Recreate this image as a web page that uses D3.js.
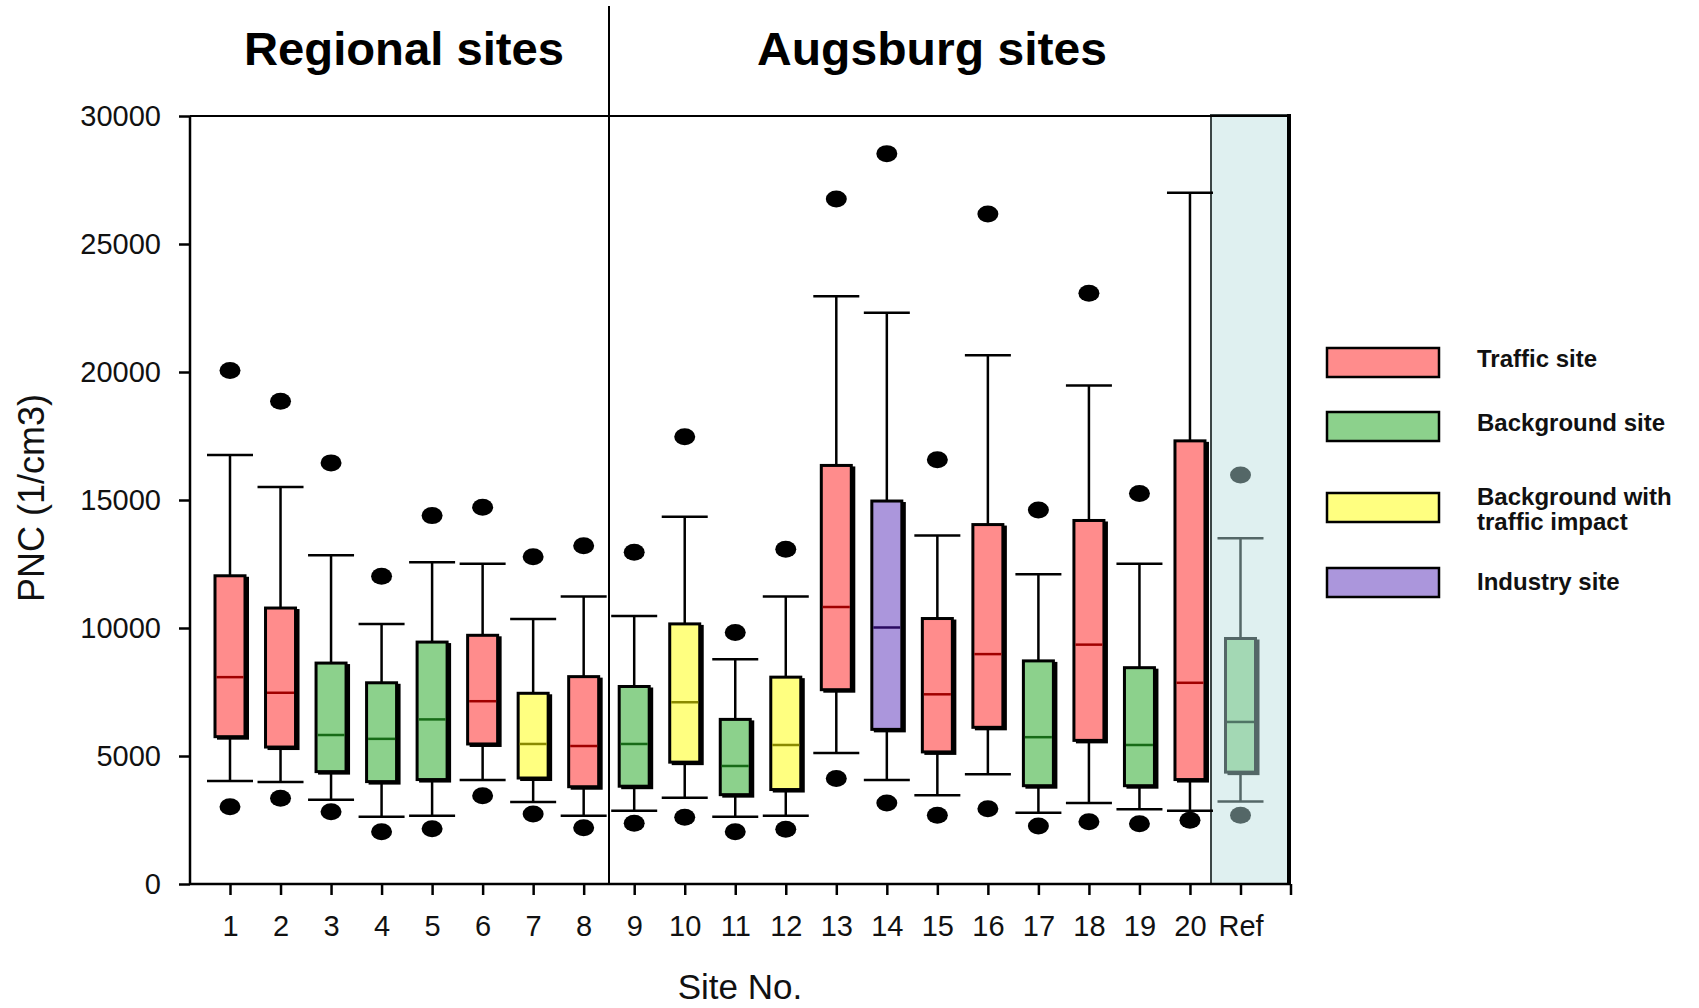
<!DOCTYPE html>
<html>
<head>
<meta charset="utf-8">
<script src="https://cdn.jsdelivr.net/npm/d3@7"></script>
<style>
  body { margin: 0; background: #fff; }
  text { font-family: "Liberation Sans", Arial, sans-serif; }
</style>
</head>
<body>
<svg id="chart" width="1699" height="1008"></svg>
<script>
// site categories and types
var sites = ['1','2','3','4','5','6','7','8','9','10','11','12','13','14','15','16','17','18','19','20','Ref'];
var siteTypes = ['T','T','B','B','B','T','BT','T','B','BT','B','BT','T','I','T','T','B','T','B','T','R'];

// box stats (PNC, 1/cm3)
var whiskerLow  = [4020,3980,3290,2630,2670,4060,3200,2670,2860,3370,2630,2670,5120,4060,3470,4290,2780,3160,2920,2860,3225];
var q1          = [5755,5350,4390,4000,4080,5470,4140,3800,3820,4760,3490,3690,7590,6040,5160,6120,3840,5610,3840,4080,4370];
var median      = [8080,7470,5820,5670,6430,7140,5470,5390,5470,7100,4610,5430,10820,10020,7410,8980,5735,9350,5430,7860,6330];
var q3          = [12040,10780,8630,7860,9450,9715,7450,8100,7715,10160,6430,8080,16350,14960,10370,14040,8715,14200,8450,17310,9590];
var whiskerHigh = [16760,15510,12840,10160,12570,12510,10350,11230,10470,14350,8780,11230,22960,22310,13610,20650,12100,19470,12510,27000,13510];
var outlierLow  = [3020,3350,2820,2040,2160,3450,2735,2200,2370,2610,2040,2140,4120,3160,2690,2940,2270,2430,2350,2490,2690];
var outlierHigh = [20060,18860,16450,12020,14390,14720,12780,13210,12960,17470,9820,13080,26760,28530,16570,26170,14610,23080,15250,null,15980];

var yTicks = [0,5000,10000,15000,20000,25000,30000];

var legendLabels = [['Traffic site'], ['Background site'], ['Background with','traffic impact'], ['Industry site']];
var legendTypes = ['T','B','BT','I'];

var fills = {T:'#ff8c8c', B:'#8cd18c', BT:'#ffff80', I:'#ab96dc', R:'#a3d8b4'};
var medianCol = {T:'#a00000', B:'#176b17', BT:'#8a8a00', I:'#2a0a60', R:'#4f7565'};
var edgeCol = {T:'#000', B:'#000', BT:'#000', I:'#000', R:'#546767'};

var svg = d3.select('#chart');
var plotL = 190, plotR = 1289, plotT = 116, plotB = 884;

var x = d3.scalePoint().domain(sites).range([230, 1240.5]);
var y = d3.scaleLinear().domain([0, 30000]).range([plotB, plotT]);

var data = sites.map(function(s, i) {
  return {site: s, type: siteTypes[i], wl: whiskerLow[i], q1: q1[i], med: median[i],
          q3: q3[i], wh: whiskerHigh[i], ol: outlierLow[i], oh: outlierHigh[i]};
});

// reference panel
svg.append('rect').attr('x', 1211).attr('y', plotT - 1).attr('width', plotR - 1211).attr('height', plotB - plotT + 1)
  .attr('fill', '#dff0f0').attr('stroke', '#3c4646').attr('stroke-width', 2);
svg.append('line').attr('x1', plotR).attr('x2', plotR).attr('y1', plotT - 2).attr('y2', plotB)
  .attr('stroke', '#000').attr('stroke-width', 4);

// frame: top line and region divider
svg.append('line').attr('x1', plotL).attr('x2', plotR).attr('y1', plotT).attr('y2', plotT)
  .attr('stroke', '#000').attr('stroke-width', 2);
svg.append('line').attr('x1', 609).attr('x2', 609).attr('y1', 6).attr('y2', plotB)
  .attr('stroke', '#000').attr('stroke-width', 2);

// axes
var yAxis = svg.append('g').attr('transform', 'translate(' + plotL + ',0)')
  .call(d3.axisLeft(y).tickValues(yTicks).tickSize(11).tickPadding(18).tickFormat(d3.format('d')));
var xAxis = svg.append('g').attr('transform', 'translate(0,' + plotB + ')')
  .call(d3.axisBottom(x).tickSize(11).tickPadding(20));
[yAxis, xAxis].forEach(function(a) {
  a.select('.domain').attr('stroke-width', 2.5);
  a.selectAll('.tick line').attr('stroke-width', 2.5);
  a.selectAll('.tick text').attr('font-size', 29).attr('font-family', '"Liberation Sans", Arial, sans-serif').attr('fill', '#111');
});
xAxis.select('.domain').attr('d', 'M' + plotL + ',0H' + (plotR + 2));
yAxis.select('.domain').attr('d', 'M0,' + y(0) + 'V' + plotT);
svg.append('line').attr('x1', plotR + 2).attr('x2', plotR + 2).attr('y1', plotB).attr('y2', plotB + 11)
  .attr('stroke', '#000').attr('stroke-width', 2.5);

// boxes
var boxW = 30, capW = 46;
var g = svg.selectAll('g.site').data(data).enter().append('g').attr('class', 'site');

g.append('line')
  .attr('x1', d => x(d.site)).attr('x2', d => x(d.site))
  .attr('y1', d => y(d.wh)).attr('y2', d => y(d.wl))
  .attr('stroke', d => edgeCol[d.type]).attr('stroke-width', 2.5);
g.selectAll('line.cap').data(d => [d.wl, d.wh].map(v => ({v: v, d: d}))).enter().append('line')
  .attr('class', 'cap')
  .attr('x1', c => x(c.d.site) - capW / 2).attr('x2', c => x(c.d.site) + capW / 2)
  .attr('y1', c => y(c.v)).attr('y2', c => y(c.v))
  .attr('stroke', c => edgeCol[c.d.type]).attr('stroke-width', 2.5);

// shadow edge on right/bottom
g.append('rect')
  .attr('x', d => x(d.site) - boxW / 2 + 2).attr('y', d => y(d.q3) + 1)
  .attr('width', boxW + 2).attr('height', d => y(d.q1) - y(d.q3) + 2)
  .attr('fill', d => edgeCol[d.type]);
g.append('rect')
  .attr('x', d => x(d.site) - boxW / 2).attr('y', d => y(d.q3))
  .attr('width', boxW).attr('height', d => y(d.q1) - y(d.q3))
  .attr('fill', d => fills[d.type]).attr('stroke', d => edgeCol[d.type]).attr('stroke-width', 3);
g.append('line')
  .attr('x1', d => x(d.site) - boxW / 2 + 1.5).attr('x2', d => x(d.site) + boxW / 2 - 1.5)
  .attr('y1', d => y(d.med)).attr('y2', d => y(d.med))
  .attr('stroke', d => medianCol[d.type]).attr('stroke-width', 2.5);

// outliers
g.selectAll('ellipse').data(d => [d.ol, d.oh].filter(v => v != null).map(v => ({v: v, d: d})))
  .enter().append('ellipse')
  .attr('cx', c => x(c.d.site)).attr('cy', c => y(c.v))
  .attr('rx', 10.5).attr('ry', 8.5)
  .attr('fill', c => c.d.type === 'R' ? '#546767' : '#000');

// titles
svg.append('text').attr('x', 404).attr('y', 65).attr('text-anchor', 'middle')
  .attr('font-size', 46).attr('font-weight', 'bold').attr('textLength', 320).attr('lengthAdjust', 'spacingAndGlyphs')
  .text('Regional sites');
svg.append('text').attr('x', 932).attr('y', 65).attr('text-anchor', 'middle')
  .attr('font-size', 46).attr('font-weight', 'bold').attr('textLength', 350).attr('lengthAdjust', 'spacingAndGlyphs')
  .text('Augsburg sites');

svg.append('text').attr('transform', 'translate(44,498) rotate(-90)').attr('text-anchor', 'middle')
  .attr('font-size', 36).attr('fill', '#111').text('PNC (1/cm3)');
svg.append('text').attr('x', 740).attr('y', 999).attr('text-anchor', 'middle')
  .attr('font-size', 35).attr('fill', '#111').text('Site No.');

// legend
var legY = [348, 412, 493, 568];
var legTextY = [[367], [431], [505, 530], [590]];
var leg = svg.selectAll('g.leg').data(legendTypes).enter().append('g').attr('class', 'leg');
leg.append('rect').attr('x', 1327).attr('y', (d, i) => legY[i]).attr('width', 112).attr('height', 29)
  .attr('fill', d => fills[d]).attr('stroke', '#000').attr('stroke-width', 2.5);
leg.each(function(d, i) {
  var el = d3.select(this);
  legendLabels[i].forEach(function(t, j) {
    el.append('text').attr('x', 1477).attr('y', legTextY[i][j])
      .attr('font-size', 24).attr('font-weight', 'bold').attr('fill', '#111').text(t);
  });
});
</script>
</body>
</html>
